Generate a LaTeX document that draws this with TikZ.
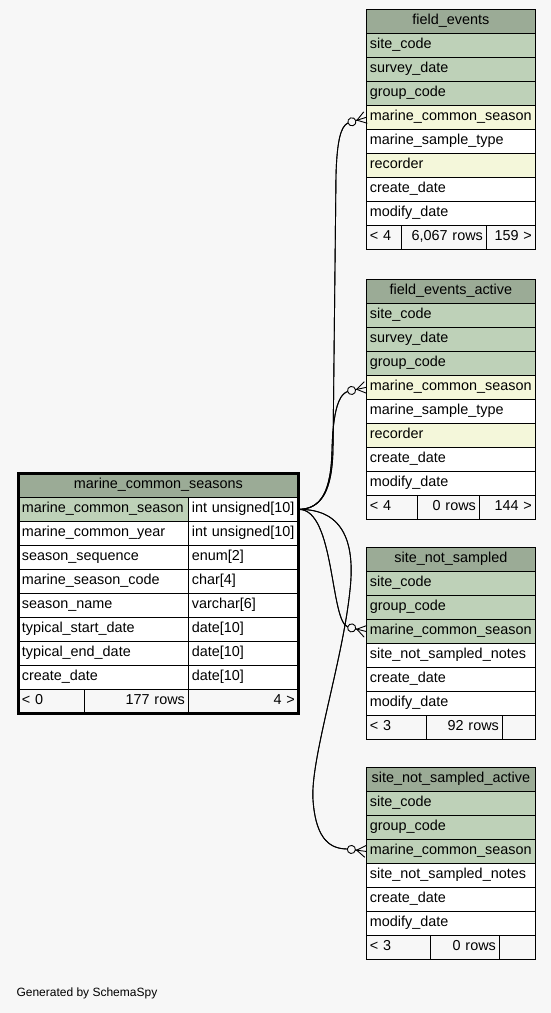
\documentclass[tikz,border=0pt]{standalone}
\usepackage{fontspec}
\setmainfont{Liberation Sans}
\usepackage{tikz}
\usetikzlibrary{arrows.meta}
\definecolor{pagegray}{HTML}{F7F7F7}
\definecolor{headgreen}{HTML}{9BAB96}
\definecolor{keygreen}{HTML}{BED1B8}
\definecolor{idxyellow}{HTML}{F4F7DA}
\newcommand{\tblfont}{\fontsize{14.4}{17}\selectfont}
\tikzset{
    % table cells (one node per cell)
    cell/.style={
        draw=black, line width=0.8pt, anchor=north west,
        minimum height=24pt, inner xsep=3.5pt, inner ysep=0pt,
        text height=10.5pt, text depth=3.5pt,
        align=left, font=\tblfont
    },
    hdcell/.style={cell, fill=headgreen, align=center},
    pkcell/.style={cell, fill=keygreen},
    ixcell/.style={cell, fill=idxyellow},
    plcell/.style={cell, fill=white},
    ftcell/.style={cell, fill=pagegray},
    ftright/.style={ftcell, align=right},
    % outer frame of the focus table
    focusframe/.style={draw=black, line width=3pt},
    % foreign key connector, crow foot with open dot
    fkedge/.style={draw=black, line width=0.9pt,
        postaction={draw, line width=0.9pt,
            -{Circle[fill=pagegray, length=9pt, width=9pt] Straight Barb[reversed, length=9pt, width=12pt]}}},
}
\begin{document}
\begin{tikzpicture}[x=1pt,y=-1pt]
  \fill[pagegray] (0,0) rectangle (551,1013);
  \useasboundingbox (0,0) rectangle (551,1013);

  % focus table: marine_common_seasons
  \node[hdcell, text width=273pt] (mcs-hd) at (18,473) {marine\_common\_seasons};
  \node[pkcell, text width=163pt] (mcs-1) at (18,497) {marine\_common\_season};
  \node[plcell, text width=103pt] (mcs-1t) at (188,497) {int unsigned[10]};
  \node[plcell, text width=163pt] (mcs-2) at (18,521) {marine\_common\_year};
  \node[plcell, text width=103pt] (mcs-2t) at (188,521) {int unsigned[10]};
  \node[plcell, text width=163pt] (mcs-3) at (18,545) {season\_sequence};
  \node[plcell, text width=103pt] (mcs-3t) at (188,545) {enum[2]};
  \node[plcell, text width=163pt] (mcs-4) at (18,569) {marine\_season\_code};
  \node[plcell, text width=103pt] (mcs-4t) at (188,569) {char[4]};
  \node[plcell, text width=163pt] (mcs-5) at (18,593) {season\_name};
  \node[plcell, text width=103pt] (mcs-5t) at (188,593) {varchar[6]};
  \node[plcell, text width=163pt] (mcs-6) at (18,617) {typical\_start\_date};
  \node[plcell, text width=103pt] (mcs-6t) at (188,617) {date[10]};
  \node[plcell, text width=163pt] (mcs-7) at (18,641) {typical\_end\_date};
  \node[plcell, text width=103pt] (mcs-7t) at (188,641) {date[10]};
  \node[plcell, text width=163pt] (mcs-8) at (18,665) {create\_date};
  \node[plcell, text width=103pt] (mcs-8t) at (188,665) {date[10]};
  \node[ftcell, text width=59pt] (mcs-f1) at (18,689) {< 0};
  \node[ftright, text width=97pt] (mcs-f2) at (84,689) {177 rows};
  \node[ftright, text width=103pt] (mcs-f3) at (188,689) {4 >};
  \draw[focusframe] (mcs-hd.north west) rectangle (mcs-f3.south east);

  % field_events
  \node[hdcell, text width=162pt] (fe-hd) at (366,9) {field\_events};
  \node[pkcell, text width=162pt] (fe-1) at (366,33) {site\_code};
  \node[pkcell, text width=162pt] (fe-2) at (366,57) {survey\_date};
  \node[pkcell, text width=162pt] (fe-3) at (366,81) {group\_code};
  \node[ixcell, text width=162pt] (fe-mcs) at (366,105) {marine\_common\_season};
  \node[plcell, text width=162pt] (fe-5) at (366,129) {marine\_sample\_type};
  \node[ixcell, text width=162pt] (fe-6) at (366,153) {recorder};
  \node[plcell, text width=162pt] (fe-7) at (366,177) {create\_date};
  \node[plcell, text width=162pt] (fe-8) at (366,201) {modify\_date};
  \node[ftcell, text width=28pt] (fe-f1) at (366,225) {< 4};
  \node[ftright, text width=78pt] (fe-f2) at (401,225) {6,067 rows};
  \node[ftright, text width=42pt] (fe-f3) at (486,225) {159 >};

  % field_events_active
  \node[hdcell, text width=162pt] (fea-hd) at (366,279) {field\_events\_active};
  \node[pkcell, text width=162pt] (fea-1) at (366,303) {site\_code};
  \node[pkcell, text width=162pt] (fea-2) at (366,327) {survey\_date};
  \node[pkcell, text width=162pt] (fea-3) at (366,351) {group\_code};
  \node[ixcell, text width=162pt] (fea-mcs) at (366,375) {marine\_common\_season};
  \node[plcell, text width=162pt] (fea-5) at (366,399) {marine\_sample\_type};
  \node[ixcell, text width=162pt] (fea-6) at (366,423) {recorder};
  \node[plcell, text width=162pt] (fea-7) at (366,447) {create\_date};
  \node[plcell, text width=162pt] (fea-8) at (366,471) {modify\_date};
  \node[ftcell, text width=44pt] (fea-f1) at (366,495) {< 4};
  \node[ftright, text width=55pt] (fea-f2) at (417,495) {0 rows};
  \node[ftright, text width=49pt] (fea-f3) at (479,495) {144 >};

  % site_not_sampled
  \node[hdcell, text width=162pt] (sns-hd) at (366,547) {site\_not\_sampled};
  \node[pkcell, text width=162pt] (sns-1) at (366,571) {site\_code};
  \node[pkcell, text width=162pt] (sns-2) at (366,595) {group\_code};
  \node[pkcell, text width=162pt] (sns-mcs) at (366,619) {marine\_common\_season};
  \node[plcell, text width=162pt] (sns-4) at (366,643) {site\_not\_sampled\_notes};
  \node[plcell, text width=162pt] (sns-5) at (366,667) {create\_date};
  \node[plcell, text width=162pt] (sns-6) at (366,691) {modify\_date};
  \node[ftcell, text width=53pt] (sns-f1) at (366,715) {< 3};
  \node[ftright, text width=69pt] (sns-f2) at (426,715) {92 rows};
  \node[ftright, text width=26pt] (sns-f3) at (502,715) {};

  % site_not_sampled_active
  \node[hdcell, text width=162pt] (snsa-hd) at (366,767) {site\_not\_sampled\_active};
  \node[pkcell, text width=162pt] (snsa-1) at (366,791) {site\_code};
  \node[pkcell, text width=162pt] (snsa-2) at (366,815) {group\_code};
  \node[pkcell, text width=162pt] (snsa-mcs) at (366,839) {marine\_common\_season};
  \node[plcell, text width=162pt] (snsa-4) at (366,863) {site\_not\_sampled\_notes};
  \node[plcell, text width=162pt] (snsa-5) at (366,887) {create\_date};
  \node[plcell, text width=162pt] (snsa-6) at (366,911) {modify\_date};
  \node[ftcell, text width=57pt] (snsa-f1) at (366,935) {< 3};
  \node[ftright, text width=62pt] (snsa-f2) at (430,935) {0 rows};
  \node[ftright, text width=29pt] (snsa-f3) at (499,935) {};

  % foreign keys
  \draw[fkedge] (mcs-1t.east) .. controls (322,509) and (332,490) .. (333,450)
      -- (336,175) .. controls (337,140) and (341,126) .. (348,123) -- (fe-mcs.west);
  \draw[fkedge] (mcs-1t.east) .. controls (322,509) and (331,490) .. (332,450)
      .. controls (333,410) and (339,393) .. (349,391) -- (fea-mcs.west);
  \draw[fkedge] (mcs-1t.east) .. controls (335,509) and (330,622) .. (348,627) -- (sns-mcs.west);
  \draw[fkedge] (mcs-1t.east) .. controls (345,509) and (355,545) .. (350,590)
      .. controls (343,660) and (310,760) .. (313,800)
      .. controls (316,842) and (332,849) .. (348,849) -- (snsa-mcs.west);

  % footer
  \node[anchor=west, font=\fontsize{12}{14}\selectfont] (credit) at (13,993) {Generated by SchemaSpy};
\end{tikzpicture}
\end{document}
